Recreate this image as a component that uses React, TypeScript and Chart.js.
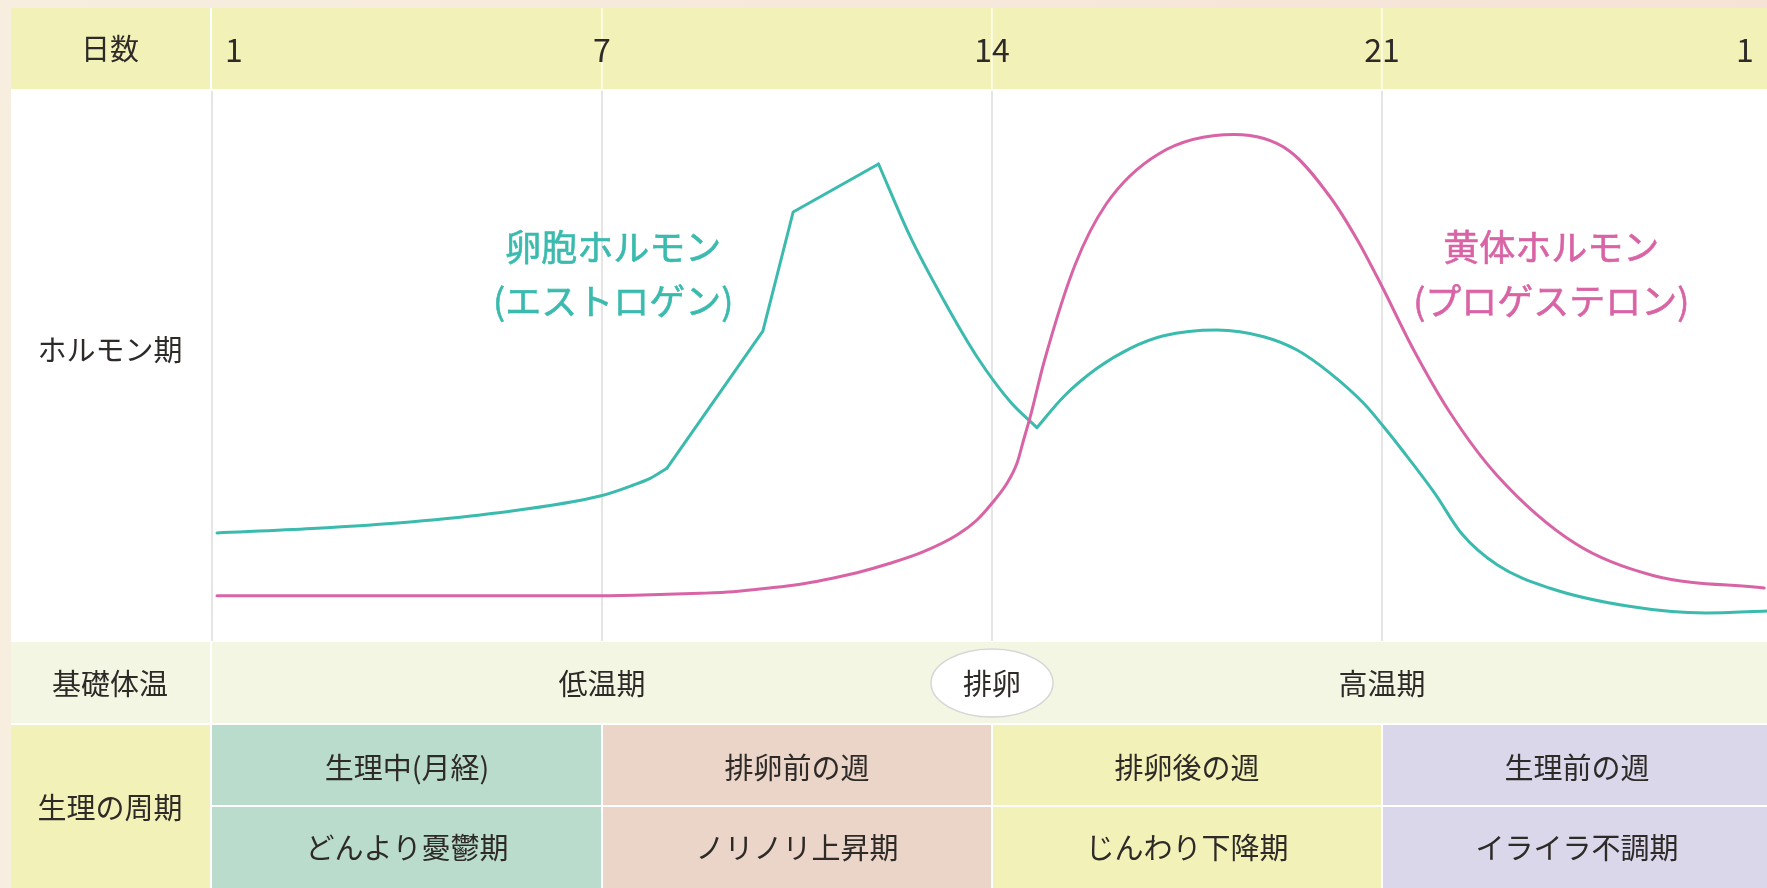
import React, { useEffect, useRef } from 'react';
import { Chart, registerables } from 'chart.js';

Chart.register(...registerables);

// ---------- data ----------
const dayTicks = [0, 7, 14, 21, 28];
const dayLabels = ['1', '7', '14', '21', '1'];
const rowLabels = ['日数', 'ホルモン期', '基礎体温', '生理の周期'];
const tempLabels = ['低温期', '排卵', '高温期'];
const phaseNames = ['生理中(月経)', '排卵前の週', '排卵後の週', '生理前の週'];
const moodNames = ['どんより憂鬱期', 'ノリノリ上昇期', 'じんわり下降期', 'イライラ不調期'];
const hormoneNames = ['卵胞ホルモン', '(エストロゲン)', '黄体ホルモン', '(プロゲステロン)'];

// estrogen (x: day offset from day 1, y: relative level)
const estrogenEarlyX = [0.09, 1.795, 3.555, 5.099, 6.966, 7.564, 7.864, 8.164];
const estrogenEarlyY = [19.64, 20.44, 21.64, 23.27, 26.36, 28.36, 29.58, 31.4];
const estrogenSurgeX = [8.164, 9.887, 10.431, 11.963];
const estrogenSurgeY = [31.4, 56.36, 78.0, 86.73];
const estrogenDropX = [11.963, 12.532, 13.131, 13.73, 14.328, 14.807];
const estrogenDropY = [86.73, 73.51, 62.0, 51.69, 43.51, 38.8];
const estrogenLutealX = [14.807, 15.285, 15.885, 16.482, 17.08, 18.039, 18.876, 19.475, 20.073, 20.671, 21.03, 21.361, 21.951, 22.42, 23.072, 24.005, 25.406, 26.817, 27.919];
const estrogenLutealY = [38.8, 44.42, 49.58, 53.22, 55.51, 56.55, 55.33, 52.91, 48.67, 43.22, 38.96, 34.73, 26.8, 19.64, 13.82, 9.64, 6.36, 5.09, 5.45];

// progesterone
const progesteroneX = [0.09, 6.966, 8.164, 8.762, 9.354, 9.959, 10.558, 10.976, 11.575, 12.173, 12.771, 13.371, 13.73, 13.999, 14.269, 14.448, 14.567, 14.687, 14.939, 15.49, 16.05, 16.99, 18.35, 19.33, 20.07, 20.558, 20.971, 21.569, 22.228, 23.07, 24.47, 25.88, 27.86];
const progesteroneY = [8.24, 8.24, 8.49, 8.67, 8.96, 9.58, 10.31, 11.09, 12.42, 14.13, 16.24, 19.27, 22.0, 25.04, 28.67, 32.31, 36.55, 40.78, 50.91, 68.36, 79.45, 88.55, 92.07, 89.15, 80.73, 72.91, 65.04, 52.91, 41.4, 30.05, 17.71, 11.87, 9.64];

// ---------- styles ----------
const TEAL = '#3bbaae';
const PINK = '#d864a5';
const TEXT = '#2e2a28';
const FONT = '"Noto Sans CJK JP", "Noto Sans", sans-serif';
const C_HEAD = '#f2f2b8';
const C_TEMP = '#f3f6e2';
const C_PHASE = ['#badccd', '#ead5c8', '#f2f2b8', '#dad7ea'];

const pts = (xs: number[], ys: number[]) => xs.map((x, i) => ({ x, y: ys[i] }));

const tablePlugin = {
  id: 'tablePlugin',
  beforeDraw(chart: any) {
    const ctx = chart.ctx;
    const xs = chart.scales.x;
    const ca = chart.chartArea;
    const W = chart.width;
    const H = chart.height;
    const colX = dayTicks.map((d) => xs.getPixelForValue(d));
    const L = 11;
    const LR = colX[0] - 2;
    const headTop = 8;
    const headBot = ca.top - 2;
    const tempTop = ca.bottom + 1;
    const tempBot = tempTop + 81;
    const r1Top = tempBot + 2;
    const r1Bot = r1Top + 80;
    const r2Top = r1Bot + 2;
    const r2Bot = H;

    ctx.save();
    const g = ctx.createLinearGradient(0, 0, W, 0);
    g.addColorStop(0, '#f7eedf');
    g.addColorStop(1, '#f5e3d6');
    ctx.fillStyle = g;
    ctx.fillRect(0, 0, W, H);

    ctx.fillStyle = '#ffffff';
    ctx.fillRect(L, headTop, W - L, H - headTop);

    // header
    ctx.fillStyle = C_HEAD;
    ctx.fillRect(L, headTop, LR - L, headBot - headTop);
    ctx.fillRect(colX[0], headTop, W - colX[0], headBot - headTop);
    ctx.fillStyle = '#ffffff';
    for (let i = 1; i < colX.length; i++) ctx.fillRect(colX[i] - 1, headTop, 1.5, headBot - headTop);

    // plot grid
    ctx.strokeStyle = '#dcdcdc';
    ctx.lineWidth = 1.5;
    for (let i = 0; i < colX.length; i++) {
      ctx.beginPath();
      ctx.moveTo(colX[i], ca.top);
      ctx.lineTo(colX[i], ca.bottom);
      ctx.stroke();
    }

    // temperature row
    ctx.fillStyle = C_TEMP;
    ctx.fillRect(L, tempTop, LR - L, tempBot - tempTop);
    ctx.fillRect(colX[0], tempTop, W - colX[0], tempBot - tempTop);

    // cycle rows
    ctx.fillStyle = C_HEAD;
    ctx.fillRect(L, r1Top, LR - L, r2Bot - r1Top);
    for (let i = 0; i < 4; i++) {
      ctx.fillStyle = C_PHASE[i];
      const a = colX[i] + (i > 0 ? 1 : 0);
      const b = colX[i + 1] - 1;
      ctx.fillRect(a, r1Top, b - a, r1Bot - r1Top);
      ctx.fillRect(a, r2Top, b - a, r2Bot - r2Top);
    }
    ctx.restore();
  },
  afterDraw(chart: any) {
    const ctx = chart.ctx;
    const xs = chart.scales.x;
    const ys = chart.scales.y;
    const ca = chart.chartArea;
    const colX = dayTicks.map((d) => xs.getPixelForValue(d));
    const labelCx = 110;
    const headMid = 49;
    const tempMid = ca.bottom + 43;
    const r1Mid = ca.bottom + 127;
    const r2Mid = ca.bottom + 207;
    const cycleMid = ca.bottom + 167;

    ctx.save();
    ctx.textBaseline = 'middle';
    ctx.textAlign = 'center';
    ctx.fillStyle = TEXT;
    ctx.font = `29px ${FONT}`;
    ctx.fillText(rowLabels[0], labelCx, headMid);
    ctx.fillText(rowLabels[1], labelCx, 350);
    ctx.fillText(rowLabels[2], labelCx, tempMid);
    ctx.fillText(rowLabels[3], labelCx, cycleMid);

    // day labels
    ctx.font = `32px ${FONT}`;
    dayLabels.forEach((t, i) => {
      let x = colX[i];
      if (i === 0) x += 22;
      if (i === dayLabels.length - 1) x -= 27;
      ctx.fillText(t, x, headMid + 1);
    });

    // temperature
    ctx.font = `29px ${FONT}`;
    ctx.fillText(tempLabels[0], (colX[0] + colX[2]) / 2, tempMid);
    ctx.fillText(tempLabels[2], (colX[2] + colX[4]) / 2, tempMid);
    ctx.beginPath();
    ctx.ellipse(colX[2], tempMid - 1, 61, 34, 0, 0, Math.PI * 2);
    ctx.fillStyle = '#ffffff';
    ctx.fill();
    ctx.strokeStyle = '#d6d6d6';
    ctx.lineWidth = 1.5;
    ctx.stroke();
    ctx.fillStyle = TEXT;
    ctx.fillText(tempLabels[1], colX[2], tempMid);

    // phases
    for (let i = 0; i < 4; i++) {
      const cx = (colX[i] + colX[i + 1]) / 2;
      ctx.fillText(phaseNames[i], cx, r1Mid);
      ctx.fillText(moodNames[i], cx, r2Mid);
    }

    // hormone names (regular weight, slightly thickened)
    ctx.font = `36px ${FONT}`;
    ctx.lineWidth = 0.6;
    const drawLabel = (t: string, x: number, y: number, c: string) => {
      ctx.fillStyle = c;
      ctx.strokeStyle = c;
      ctx.fillText(t, x, y);
      ctx.strokeText(t, x, y);
    };
    drawLabel(hormoneNames[0], xs.getPixelForValue(7.2), ys.getPixelForValue(71.5), TEAL);
    drawLabel(hormoneNames[1], xs.getPixelForValue(7.2), ys.getPixelForValue(61.8), TEAL);
    drawLabel(hormoneNames[2], xs.getPixelForValue(24.04), ys.getPixelForValue(71.5), PINK);
    drawLabel(hormoneNames[3], xs.getPixelForValue(24.04), ys.getPixelForValue(61.8), PINK);
    ctx.restore();
  },
};

export default function App() {
  const ref = useRef<HTMLCanvasElement | null>(null);

  useEffect(() => {
    if (!ref.current) return;
    const common = {
      borderWidth: 3,
      pointRadius: 0,
      pointHoverRadius: 0,
      fill: false,
      borderCapStyle: 'round',
      borderJoinStyle: 'round',
    };
    const chart = new Chart(ref.current, {
      type: 'line',
      data: {
        datasets: [
          { ...common, label: 'progesterone', data: pts(progesteroneX, progesteroneY), borderColor: PINK, cubicInterpolationMode: 'monotone' },
          { ...common, label: 'estrogen1', data: pts(estrogenEarlyX, estrogenEarlyY), borderColor: TEAL, cubicInterpolationMode: 'monotone' },
          { ...common, label: 'estrogen2', data: pts(estrogenSurgeX, estrogenSurgeY), borderColor: TEAL, tension: 0 },
          { ...common, label: 'estrogen3', data: pts(estrogenDropX, estrogenDropY), borderColor: TEAL, cubicInterpolationMode: 'monotone' },
          { ...common, label: 'estrogen4', data: pts(estrogenLutealX, estrogenLutealY), borderColor: TEAL, cubicInterpolationMode: 'monotone' },
        ] as any,
      },
      options: {
        responsive: false,
        devicePixelRatio: 1,
        animation: false,
        events: [],
        layout: { padding: { left: 212, right: 28, top: 91, bottom: 247 } },
        scales: {
          x: { type: 'linear', min: 0, max: 28, display: false },
          y: { min: 0, max: 100, display: false },
        },
        plugins: { legend: { display: false }, tooltip: { enabled: false } },
      } as any,
      plugins: [tablePlugin],
    });
    return () => chart.destroy();
  }, []);

  return (
    <div style={{ position: 'fixed', left: 0, top: 0, width: 1767, height: 888, overflow: 'hidden', background: '#f7eedf' }}>
      <canvas ref={ref} width={1800} height={888} style={{ display: 'block', width: 1800, height: 888 }} />
    </div>
  );
}
